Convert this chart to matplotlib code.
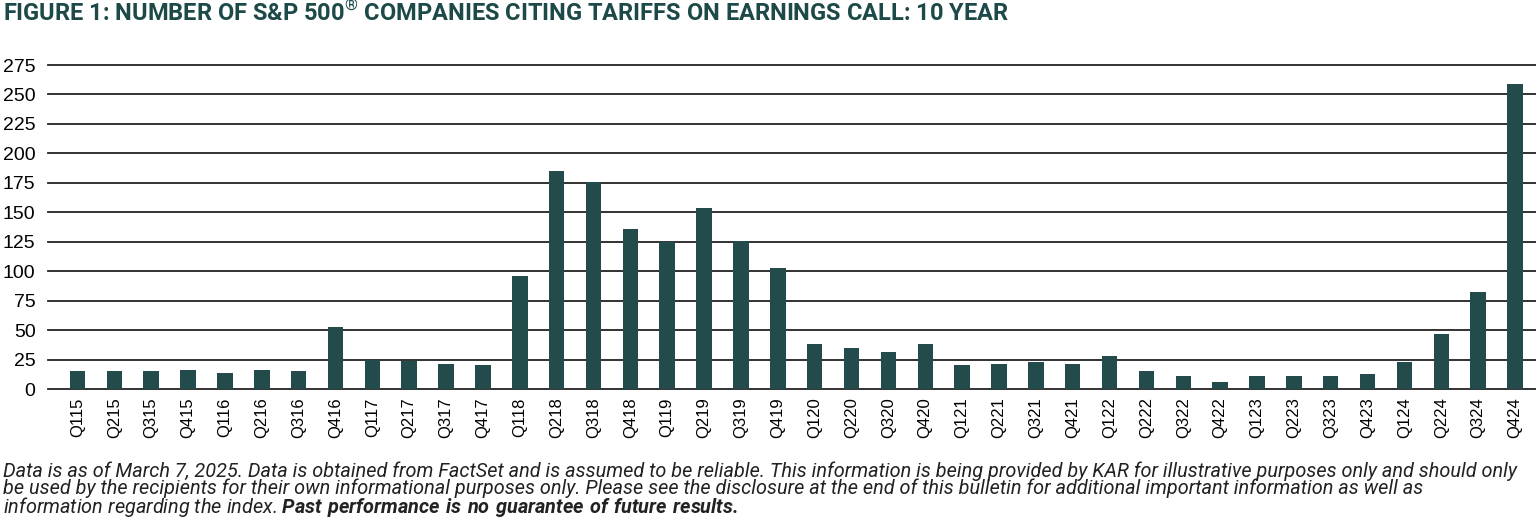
import matplotlib
matplotlib.use("Agg")
import matplotlib.pyplot as plt

quarters = ["Q115", "Q215", "Q315", "Q415", "Q116", "Q216", "Q316", "Q416",
            "Q117", "Q217", "Q317", "Q417", "Q118", "Q218", "Q318", "Q418",
            "Q119", "Q219", "Q319", "Q419", "Q120", "Q220", "Q320", "Q420",
            "Q121", "Q221", "Q321", "Q421", "Q122", "Q222", "Q322", "Q422",
            "Q123", "Q223", "Q323", "Q423", "Q124", "Q224", "Q324", "Q424"]
companies = [15, 15, 15, 16, 14, 16, 15, 53,
             25, 24, 21, 20, 96, 185, 176, 136,
             125, 154, 126, 103, 38, 35, 31, 38,
             20, 21, 23, 21, 28, 15, 11, 6,
             11, 11, 11, 13, 23, 47, 82, 259]
yticks = [0, 25, 50, 75, 100, 125, 150, 175, 200, 225, 250, 275]

title = "FIGURE 1: NUMBER OF S&P 500$^{®}$ COMPANIES CITING TARIFFS ON EARNINGS CALL: 10 YEAR"
note = ("Data is as of March 7, 2025. Data is obtained from FactSet and is assumed to be reliable. "
        "This information is being provided by KAR for illustrative purposes only and should only\n"
        "be used by the recipients for their own informational purposes only. Please see the disclosure "
        "at the end of this bulletin for additional important information as well as\n"
        "information regarding the index. "
        r"$\mathbfit{Past\ performance\ is\ no\ guarantee\ of\ future\ results.}$")

bar_color = "#234b4b"
title_color = "#1d4a48"

plt.rcParams["font.family"] = ["Roboto", "DejaVu Sans"]
plt.rcParams["mathtext.fontset"] = "custom"
plt.rcParams["mathtext.rm"] = "Roboto"
plt.rcParams["mathtext.bfit"] = "Roboto:italic:bold"

fig = plt.figure(figsize=(15.36, 5.2), dpi=100)
ax = fig.add_axes([48 / 1536, 1 - 389 / 520, 1 - 48 / 1536, 324 / 520])

x = list(range(len(quarters)))
ax.bar(x, companies, width=0.42, color=bar_color, zorder=3)
ax.set_xlim(-0.8, 39.57)
ax.set_ylim(0, 275)
ax.set_yticks(yticks)
ax.set_xticks(x)
ax.set_xticklabels(quarters, rotation=90, fontsize=12, family="Liberation Sans")
for lab in ax.get_yticklabels():
    lab.set_family("Liberation Sans")
ax.tick_params(axis="y", labelsize=14, length=0, pad=9)
ax.tick_params(axis="x", length=0, pad=6)
ax.grid(axis="y", color="#222222", linewidth=1.3, zorder=0)
for gl in ax.get_ygridlines():
    gl.set_clip_on(False)
for s in ax.spines.values():
    s.set_visible(False)

fig.text(0.002, 1 - 13 / 520, title, fontsize=17, fontweight="bold", color=title_color,
         va="center", ha="left")

fig.text(0.002, 1 - 461 / 520, note, fontsize=14.3, style="italic", va="top", ha="left",
         linespacing=0.86, color="#222222")

fig.savefig("out.png", dpi=100)
